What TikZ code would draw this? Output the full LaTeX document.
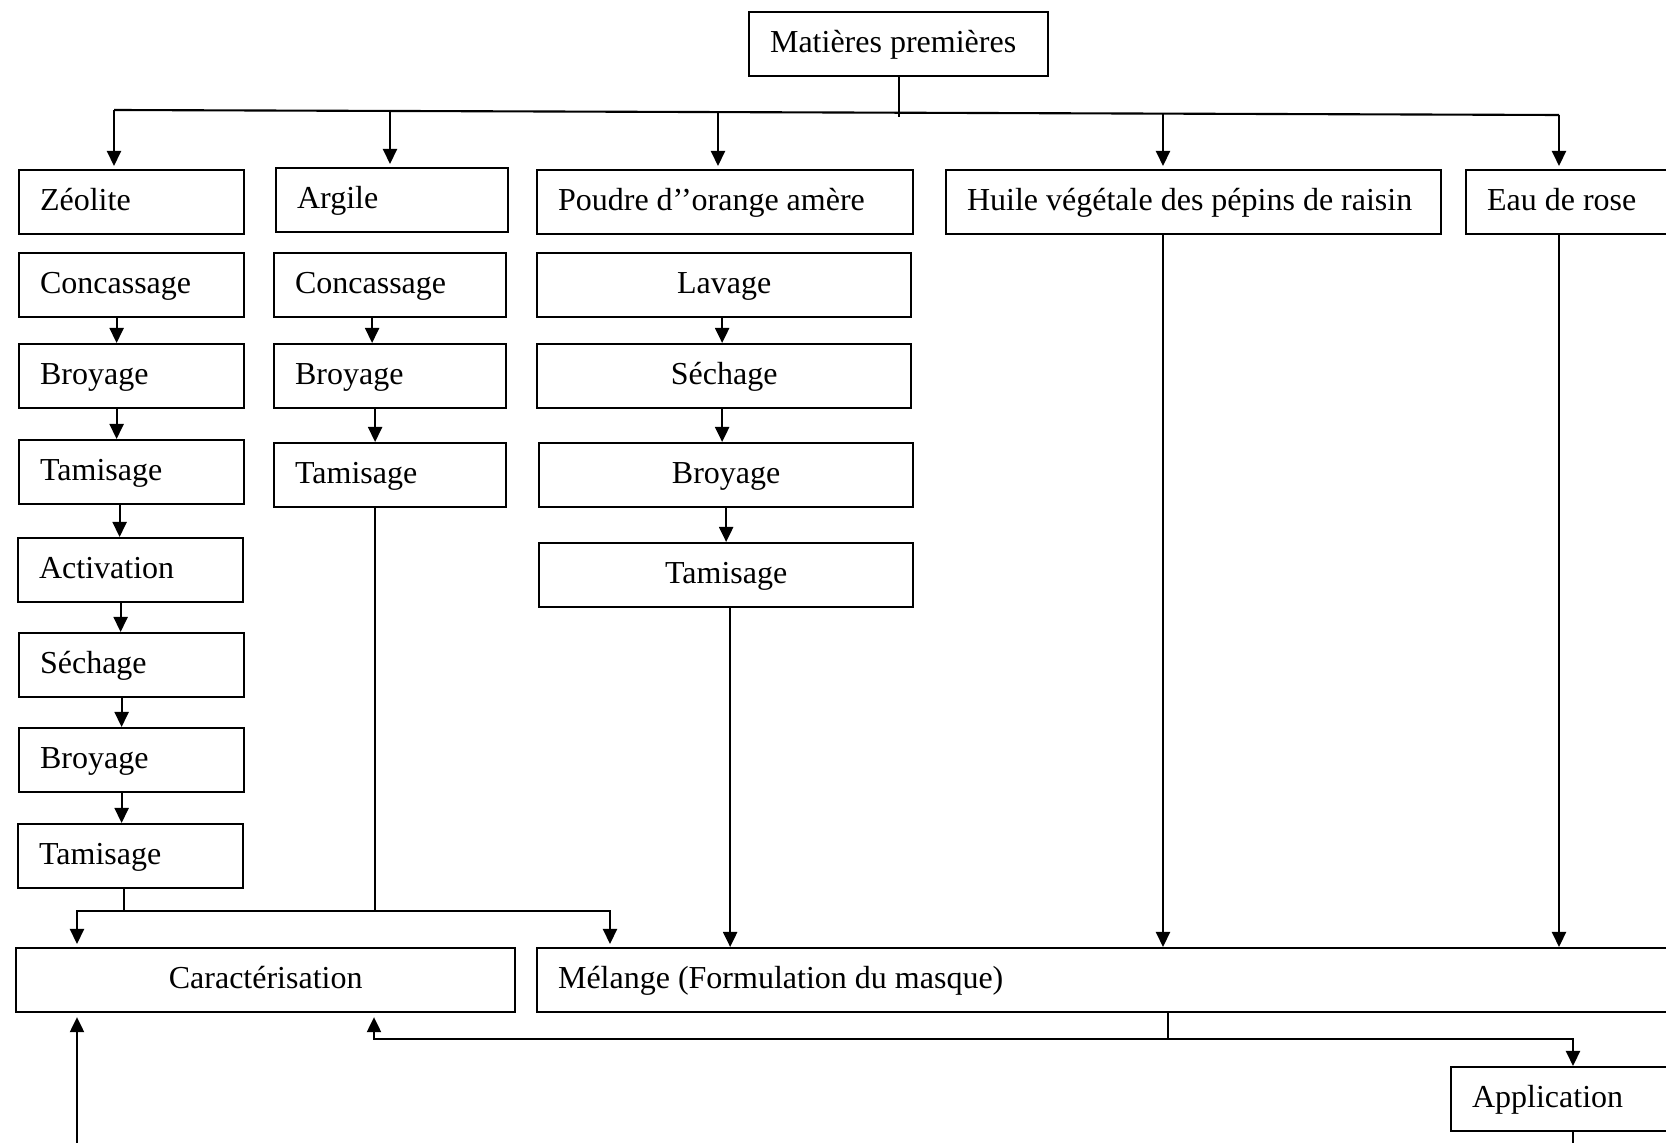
\documentclass[tikz,border=0pt]{standalone}
\usepackage{fontspec}
\setmainfont{Liberation Serif}
\usetikzlibrary{arrows.meta}

\begin{document}
\begin{tikzpicture}[x=0.01cm,y=-0.01cm,line width=0.6pt,
  >={Triangle[length=0.15cm,width=0.14cm]},
  every node/.style={font=\fontsize{9.1}{11}\selectfont},
  lbox/.style={draw=black,anchor=north west,inner xsep=0.21cm,inner ysep=0pt,
    minimum height=0.64cm,text height=0.24cm,text depth=0.08cm,align=flush left},
  cbox/.style={lbox,align=flush center}]
\useasboundingbox (0,0) rectangle (1666,1143);
\clip (0,0) rectangle (1666,1143);
\node [lbox,text width=2.57cm] (mat) at (748,11) {Matières premières};
\node [lbox,text width=1.83cm] (zeo) at (18,169) {Zéolite};
\node [lbox,text width=1.90cm] (arg) at (275,167) {Argile};
\node [lbox,text width=3.34cm] (pou) at (536,169) {Poudre d’’orange amère};
\node [lbox,text width=4.53cm] (hui) at (945,169) {Huile végétale des pépins de raisin};
\node [lbox,text width=1.93cm] (eau) at (1465,169) {Eau de rose};
\node [lbox,text width=1.83cm] (zconc) at (18,252) {Concassage};
\node [lbox,text width=1.83cm] (zbroy) at (18,343) {Broyage};
\node [lbox,text width=1.83cm] (ztam) at (18,439) {Tamisage};
\node [lbox,text width=1.83cm] (zact) at (17,537) {Activation};
\node [lbox,text width=1.83cm] (zsech) at (18,632) {Séchage};
\node [lbox,text width=1.83cm] (zbroy2) at (18,727) {Broyage};
\node [lbox,text width=1.83cm] (ztam2) at (17,823) {Tamisage};
\node [lbox,text width=1.90cm] (aconc) at (273,252) {Concassage};
\node [lbox,text width=1.90cm] (abroy) at (273,343) {Broyage};
\node [lbox,text width=1.90cm] (atam) at (273,442) {Tamisage};
\node [cbox,text width=3.32cm] (plav) at (536,252) {Lavage};
\node [cbox,text width=3.32cm] (psech) at (536,343) {Séchage};
\node [cbox,text width=3.32cm] (pbroy) at (538,442) {Broyage};
\node [cbox,text width=3.32cm] (ptam) at (538,542) {Tamisage};
\node [cbox,text width=4.57cm] (car) at (15,947) {Caractérisation};
\node [lbox,text width=11.22cm] (mel) at (536,947) {Mélange (Formulation du masque)};
\node [lbox,text width=2.08cm] (app) at (1450,1066) {Application};
\coordinate (trunk) at (898,117);
\coordinate (b1) at (114,110);
\coordinate (b2) at (390,111);
\coordinate (b3) at (718,112);
\coordinate (b4) at (1163,113.6);
\coordinate (b5) at (1559,115);
\coordinate (hl) at (77,911);
\coordinate (hr) at (610,911);
\coordinate (fm) at (1168,1039);
\coordinate (fl) at (374,1039);
\coordinate (fr) at (1573,1039);
\coordinate (ab) at (1573,1160);
\coordinate (cb) at (77,1160);
\draw (mat.south) -- (mat.south |- trunk);
\draw (b1) -- (b5);
\draw [->,shorten >=0.03cm] (b1) -- (b1 |- zeo.north);
\draw [->,shorten >=0.03cm] (b2) -- (b2 |- arg.north);
\draw [->,shorten >=0.03cm] (b3) -- (b3 |- pou.north);
\draw [->,shorten >=0.03cm] (b4) -- (b4 |- hui.north);
\draw [->,shorten >=0.03cm] (b5) -- (b5 |- eau.north);
\draw [->] ([xshift=-0.15cm]zconc.south) -- ([xshift=-0.15cm]zbroy.north);
\draw [->] ([xshift=-0.15cm]zbroy.south) -- ([xshift=-0.15cm]zbroy.south |- ztam.north);
\draw [->] ([xshift=-0.12cm]ztam.south) -- ([xshift=-0.12cm]ztam.south |- zact.north);
\draw [->] ([xshift=-0.10cm]zact.south) -- ([xshift=-0.10cm]zact.south |- zsech.north);
\draw [->] ([xshift=-0.10cm]zsech.south) -- ([xshift=-0.10cm]zsech.south |- zbroy2.north);
\draw [->] ([xshift=-0.10cm]zbroy2.south) -- ([xshift=-0.10cm]zbroy2.south |- ztam2.north);
\draw [->] ([xshift=-0.18cm]aconc.south) -- ([xshift=-0.18cm]abroy.north);
\draw [->] ([xshift=-0.15cm]abroy.south) -- ([xshift=-0.15cm]abroy.south |- atam.north);
\draw [->] ([xshift=-0.02cm]plav.south) -- ([xshift=-0.02cm]psech.north);
\draw [->] ([xshift=-0.02cm]psech.south) -- ([xshift=-0.02cm]psech.south |- pbroy.north);
\draw [->] (pbroy.south) -- (ptam.north);
\draw ([xshift=-0.07cm]ztam2.south) -- ([xshift=-0.07cm]ztam2.south |- hl);
\draw ([xshift=-0.15cm]atam.south) -- ([xshift=-0.15cm]atam.south |- hl);
\draw [<->,shorten <=0.03cm,shorten >=0.03cm] (hl |- car.north) -- (hl) -- (hr) -- (hr |- mel.north);
\draw [->] ([xshift=0.04cm]ptam.south) -- ([xshift=0.04cm]ptam.south |- mel.north);
\draw [->] (hui.south -| b4) -- (b4 |- mel.north);
\draw [->] (eau.south -| b5) -- (b5 |- mel.north);
\draw (fm |- mel.south) -- (fm);
\draw [<->,shorten <=0.04cm] (fl |- car.south) -- (fl) -- (fr) -- (fr |- app.north);
\draw (app.south -| ab) -- (ab);
\draw [->,shorten >=0.04cm] (cb) -- (cb |- car.south);
\end{tikzpicture}
\end{document}
